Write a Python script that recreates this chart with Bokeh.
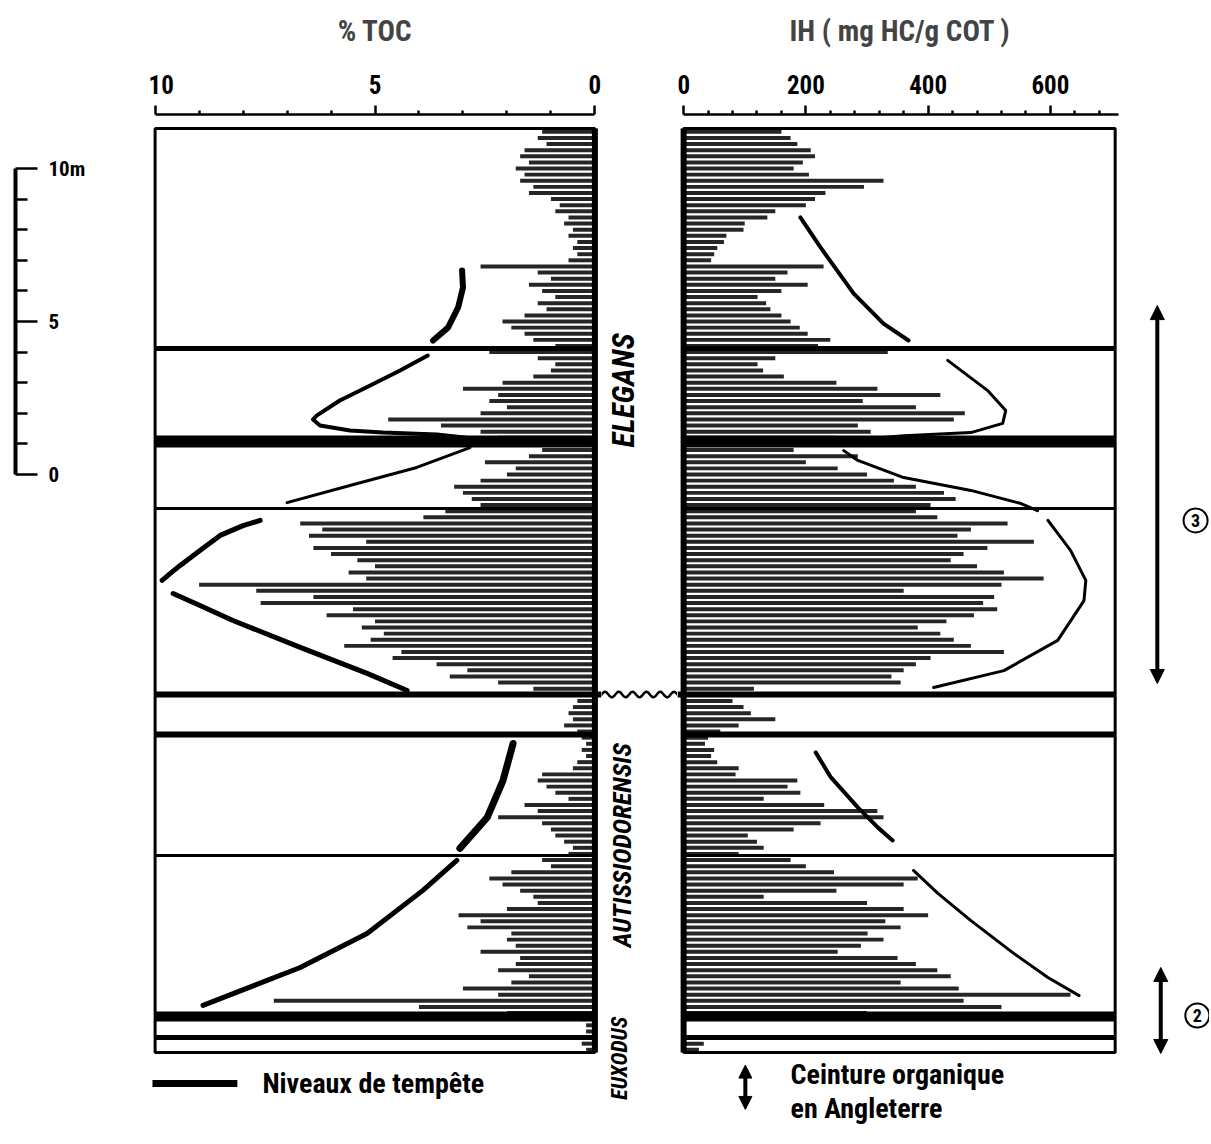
import numpy as np
from bokeh.plotting import figure
from bokeh.models import Range1d, FixedTicker, LinearAxis, Arrow, NormalHead
from bokeh.layouts import row
from bokeh.embed import file_html
from bokeh.resources import INLINE
from bokeh.core.properties import value

FONT = "'Roboto Condensed', 'Liberation Sans Narrow', Roboto, sans-serif"

# ---------------- data ----------------
# sample heights in the section (m, 0 = base of the 10 m scale)
sample_depth = [round(11.2 - 0.2 * i, 2) for i in range(151)]

toc = [1.2, 1.3, 1.1, 1.6, 1.7, 1.5, 1.8, 1.6, 1.7, 1.4,
       1.5, 1.0, 0.8, 0.9, 0.6, 0.7, 0.5, 0.6, 0.4, 0.5,
       0.4, 0.6, 2.6, 1.3, 1.0, 1.5, 1.2, 0.9, 1.3, 1.1,
       1.6, 2.1, 1.9, 1.6, 1.4, 0.9, 2.4, 1.3, 0.9, 1.0,
       1.4, 2.1, 3.0, 2.2, 2.4, 2.0, 2.6, 4.7, 3.5, 2.6,
       2.2, 1.0, 1.2, 1.5, 2.5, 1.8, 2.0, 2.6, 3.2, 3.0,
       2.8, 2.6, 3.4, 3.9, 6.7, 6.2, 6.5, 5.2, 6.4, 6.0,
       5.4, 5.0, 5.6, 5.2, 9.0, 7.7, 6.4, 7.6, 5.5, 6.1,
       5.0, 5.3, 4.8, 5.1, 5.7, 4.4, 4.6, 3.6, 2.9, 3.3,
       2.2, 1.4, 0.5, 0.4, 0.5, 0.6, 0.5, 0.7, 0.4, 0.3,
       0.2, 0.3, 0.2, 0.4, 0.5, 1.2, 1.3, 1.1, 0.9, 0.6,
       1.6, 1.3, 2.2, 1.2, 1.0, 0.9, 0.7, 0.5, 0.6, 1.2,
       1.0, 1.9, 2.4, 2.1, 1.7, 1.4, 1.3, 2.0, 3.1, 2.6,
       2.9, 1.9, 2.0, 1.8, 2.6, 1.7, 1.8, 2.2, 1.5, 1.9,
       3.0, 2.2, 7.3, 4.0, 2.0, 0.3, 0.2, 0.2, 0.2, 0.3,
       0.2]

ih = [160, 175, 186, 208, 215, 195, 180, 205, 327, 295,
      232, 215, 200, 150, 137, 100, 98, 70, 66, 55,
      50, 45, 229, 170, 150, 203, 160, 121, 135, 142,
      160, 175, 190, 203, 240, 220, 334, 150, 121, 130,
      164, 250, 317, 420, 293, 380, 460, 442, 285, 306,
      250, 200, 180, 285, 200, 252, 300, 344, 380, 426,
      445, 404, 380, 415, 530, 470, 448, 573, 497, 458,
      437, 480, 524, 589, 520, 360, 508, 490, 513, 475,
      430, 383, 420, 442, 470, 524, 404, 380, 360, 340,
      355, 115, 60, 80, 98, 110, 150, 90, 60, 40,
      35, 50, 45, 55, 90, 85, 186, 170, 191, 131,
      230, 317, 327, 224, 180, 105, 120, 131, 90, 175,
      200, 246, 383, 360, 250, 131, 300, 360, 400, 330,
      355, 301, 327, 290, 252, 350, 380, 415, 437, 355,
      450, 633, 458, 520, 300, 0, 0, 0, 0, 33,
      25]

# storm levels (Niveaux de tempête): height (m) and drawn thickness (px)
storm_depth = [4.12, 1.08, -1.11, -7.19, -8.50, -12.45, -17.71, -18.40]
storm_width = [5, 12, 3, 6, 6, 3, 10, 5]
wave_depth = -7.19  # erosion surface between the two zones

# hand-drawn trend curves
toc_curve_x = [[3.02, 3.00, 3.11, 3.34, 3.68],
               [3.80, 4.43, 5.11, 5.80, 6.32, 6.41, 6.25, 5.57, 4.82, 3.59, 2.77],
               [2.84, 4.05, 5.57, 7.0],
               [7.61, 8.0, 8.52, 8.98, 9.43, 9.66, 9.84],
               [9.59, 8.98, 8.23, 6.70, 5.18, 4.27],
               [1.86, 2.09, 2.45, 3.07],
               [3.14, 3.91, 5.18, 6.70, 8.91]]
toc_curve_y = [[6.67, 6.11, 5.46, 4.80, 4.38],
               [3.89, 3.40, 2.91, 2.42, 1.93, 1.80, 1.60, 1.44, 1.37, 1.31, 1.18],
               [0.88, 0.23, -0.36, -0.92],
               [-1.50, -1.67, -1.99, -2.48, -2.97, -3.24, -3.46],
               [-3.89, -4.28, -4.77, -5.65, -6.50, -7.06],
               [-8.79, -10.0, -11.21, -12.22],
               [-12.61, -13.59, -15.0, -16.11, -17.35]]
toc_curve_w = [6, 4, 3, 5, 5, 7, 5]

ih_curve_x = [[191, 224, 278, 327, 368],
              [432, 497, 527, 522, 470, 360, 306],
              [262, 285, 360, 470, 552, 579],
              [596, 633, 658, 655, 612, 524, 409],
              [216, 241, 285, 318, 342],
              [376, 416, 470, 540, 596, 647]]
ih_curve_y = [[8.40, 7.42, 5.92, 4.93, 4.38],
              [3.73, 2.75, 2.09, 1.67, 1.37, 1.27, 1.18],
              [0.78, 0.46, -0.10, -0.52, -0.95, -1.18],
              [-1.50, -2.48, -3.46, -4.12, -5.42, -6.41, -6.96],
              [-9.08, -9.90, -10.88, -11.54, -11.96],
              [-12.94, -13.69, -14.58, -15.65, -16.44, -17.03]]
ih_curve_w = [4, 3, 3, 3, 4, 3]

zones = ["ELEGANS", "AUTISSIODORENSIS", "EUXODUS"]
zone_depth = [2.75, -12.12, -19.08]
zone_x = [0.29, 0.27, 0.24]
zone_size = ["31px", "26px", "22px"]

belt_top = [5.52, -16.11]
belt_bottom = [-6.83, -18.92]
belt_label = ["3", "2"]
belt_label_depth = [-1.50, -17.68]

toc_ticks = [0, 5, 10]
toc_minor = [1, 2, 3, 4, 6, 7, 8, 9]
ih_ticks = [0, 200, 400, 600]
ih_minor = [40, 80, 120, 160, 240, 280, 320, 360, 440, 480, 520, 560, 640, 680]
scale_ticks = [0, 5, 10]
scale_minor = [1, 2, 3, 4, 6, 7, 8, 9]

# ---------------- layout constants ----------------
Y_TOP, Y_BOT = 11.765, -21.634
PANEL_TOP, PANEL_BOT = 11.31, -18.89
H = 1136
TOP = 114


def make_fig(width, xr, **kw):
    args = dict(width=width, height=H, x_range=xr, y_range=Range1d(Y_BOT, Y_TOP),
                x_axis_type=None, y_axis_type=None, toolbar_location=None,
                output_backend="svg", min_border_top=TOP, min_border_bottom=0,
                min_border_left=0, min_border_right=0)
    args.update(kw)
    p = figure(**args)
    p.outline_line_color = None
    p.background_fill_color = "white"
    p.border_fill_color = "white"
    return p


def style_top_axis(ax, title):
    ax.axis_label = title
    ax.axis_label_text_font = FONT
    ax.axis_label_text_font_size = "29px"
    ax.axis_label_text_font_style = "bold"
    ax.axis_label_standoff = 24
    ax.axis_line_width = 2.5
    ax.major_tick_out = 9
    ax.major_tick_in = 0
    ax.minor_tick_out = 4
    ax.minor_tick_in = 0
    ax.major_tick_line_width = 2.5
    ax.minor_tick_line_width = 2.5
    ax.major_label_standoff = 12
    ax.major_label_text_font = FONT
    ax.major_label_text_font_size = "25px"
    ax.major_label_text_font_style = "bold"
    ax.major_label_text_color = "black"


# ---------- depth scale ----------
ps = make_fig(148, Range1d(0, 1), min_border_left=8, min_border_right=133)
sax = LinearAxis(bounds=(0, 10), ticker=FixedTicker(ticks=scale_ticks, minor_ticks=scale_minor),
                 major_label_overrides={10: "10m"})
sax.axis_line_width = 4
sax.major_tick_out = 22
sax.major_tick_in = 0
sax.minor_tick_out = 12
sax.minor_tick_in = 0
sax.major_tick_line_width = 2.5
sax.minor_tick_line_width = 2.5
sax.major_label_standoff = 11
sax.major_label_text_font = FONT
sax.major_label_text_font_size = "21px"
sax.major_label_text_font_style = "bold"
sax.major_label_text_color = "black"
ps.add_layout(sax, "right")

# ---------- TOC panel ----------
pt = make_fig(453, Range1d(10.15, -0.15))
tax = LinearAxis(bounds=(0, 10), ticker=FixedTicker(ticks=toc_ticks, minor_ticks=toc_minor))
style_top_axis(tax, "% TOC")
pt.add_layout(tax, "above")

pt.hbar(y=sample_depth, left=toc, right=0, height=0.13, fill_color="#262626", line_color=None)

st_x0 = [10] * len(storm_depth)
st_x1 = [(-0.15 if d == wave_depth else 0) for d in storm_depth]
pt.segment(x0=st_x0, x1=st_x1, y0=storm_depth, y1=storm_depth,
           line_width=storm_width, line_color="black")
pt.quad(left=[10], right=[0], top=[PANEL_TOP], bottom=[PANEL_BOT],
        fill_color=None, line_color="black", line_width=3)
pt.segment(x0=[0], x1=[0], y0=[PANEL_BOT], y1=[PANEL_TOP], line_width=6, line_color="black")
pt.multi_line(xs=toc_curve_x, ys=toc_curve_y, line_width=toc_curve_w, line_color="black",
              line_cap="round", line_join="round")

# legend: storm levels
pt.segment(x0=[10.06], x1=[8.13], y0=[-19.9], y1=[-19.9], line_width=7, line_color="black")
pt.text(x=[7.56], y=[-19.9], text=["Niveaux de tempête"], text_font=value(FONT),
        text_font_size=value("28px"), text_font_style="bold", text_align="left",
        text_baseline="middle", text_color="black")

# ---------- middle column: ammonite zones ----------
pm = make_fig(76, Range1d(0, 1))
wx = np.linspace(-0.02, 1.02, 90)
wy = wave_depth + 0.09 * np.sin(2 * np.pi * 5.5 * wx)
pm.line(x=wx, y=wy, line_width=2.5, line_color="black")
pm.text(x=zone_x, y=zone_depth, text=zones, angle=np.pi / 2,
        text_font=value(FONT), text_font_size=zone_size, text_font_style="bold italic",
        text_align="center", text_baseline="middle", text_color="black")

# ---------- IH panel ----------
pi_ = make_fig(445, Range1d(-10, 718))
iax = LinearAxis(bounds=(0, 712), ticker=FixedTicker(ticks=ih_ticks, minor_ticks=ih_minor))
style_top_axis(iax, "IH ( mg HC/g COT )")
pi_.add_layout(iax, "above")

pi_.hbar(y=sample_depth, left=0, right=ih, height=0.13, fill_color="#262626", line_color=None)
si_x0 = [(-10 if d == wave_depth else 0) for d in storm_depth]
si_x1 = [706] * len(storm_depth)
pi_.segment(x0=si_x0, x1=si_x1, y0=storm_depth, y1=storm_depth,
            line_width=storm_width, line_color="black")
pi_.quad(left=[0], right=[706], top=[PANEL_TOP], bottom=[PANEL_BOT],
         fill_color=None, line_color="black", line_width=3)
pi_.segment(x0=[0], x1=[0], y0=[PANEL_BOT], y1=[PANEL_TOP], line_width=6, line_color="black")
pi_.multi_line(xs=ih_curve_x, ys=ih_curve_y, line_width=ih_curve_w, line_color="black",
               line_cap="round", line_join="round")

# legend: organic belt in England
pi_.add_layout(Arrow(start=NormalHead(size=13, fill_color="black", line_color="black"),
                     end=NormalHead(size=13, fill_color="black", line_color="black"),
                     x_start=101, y_start=-19.30, x_end=101, y_end=-20.75,
                     line_width=4, line_color="black"))
pi_.text(x=[175, 175], y=[-19.62, -20.72], text=["Ceinture organique", "en Angleterre"],
         text_font=value(FONT), text_font_size=value("28px"), text_font_style="bold",
         text_align="left", text_baseline="middle", text_color="black")

# ---------- right column: organic belts ----------
pr = make_fig(87, Range1d(0, 1))
for xa, t, b in zip([0.40, 0.44], belt_top, belt_bottom):
    pr.add_layout(Arrow(start=NormalHead(size=14, fill_color="black", line_color="black"),
                        end=NormalHead(size=14, fill_color="black", line_color="black"),
                        x_start=xa, y_start=t, x_end=xa, y_end=b,
                        line_width=4, line_color="black"))
pr.scatter(x=[0.84, 0.86], y=belt_label_depth, marker="circle", size=24,
           fill_color="white", line_color="black", line_width=2)
pr.text(x=[0.84, 0.86], y=belt_label_depth, text=belt_label, text_font=value(FONT),
        text_font_size=value("18px"), text_font_style="bold", text_align="center",
        text_baseline="middle", text_color="black")

layout = row(ps, pt, pm, pi_, pr, spacing=0)
open("out.html", "w").write(file_html(layout, INLINE))
